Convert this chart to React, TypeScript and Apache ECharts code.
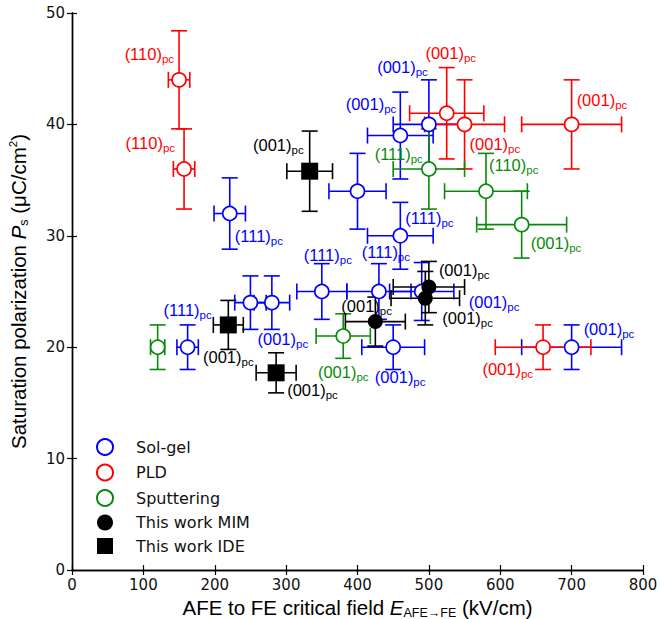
import React, { useEffect, useRef } from "react";
import * as echarts from "echarts";

// ---- Data (E in kV/cm, P in µC/cm²) ----
const solGelE = [162, 221, 250, 280, 350, 430, 490, 450, 400, 460, 460, 500, 700];
const solGelP = [20, 32, 24, 24, 25, 25, 25, 20, 34, 30, 39, 40, 20];
const solGelEerr = [15, 22, 22, 25, 35, 45, 45, 44, 40, 46, 46, 50, 70];
const solGelPerr = [2, 3.2, 2.4, 2.4, 2.5, 2.5, 2.6, 2, 3.4, 3, 3.9, 4, 2];
const solGelLabels = ["(111)", "(111)", "", "(001)", "(111)", "(111)", "(001)", "(001)", "", "(111)", "(001)", "(001)", "(001)"];

const pldE = [150, 157, 525, 550, 700, 660];
const pldP = [44, 36, 41, 40, 40, 20];
const pldEerr = [15, 15, 52, 56, 70, 67];
const pldPerr = [4.4, 3.6, 4.1, 4, 4, 2];
const pldLabels = ["(110)", "(110)", "(001)", "(001)", "(001)", "(001)"];

const sputE = [120, 380, 500, 580, 630];
const sputP = [20, 21, 36, 34, 31];
const sputEerr = [10, 38, 50, 58, 63];
const sputPerr = [2, 2, 3.6, 3.4, 3];
const sputLabels = ["", "(001)", "(111)", "(110)", "(001)"];

const mimE = [425, 500, 495];
const mimP = [22.3, 25.4, 24.4];
const mimEerr = [42, 50, 48];
const mimPerr = [2.2, 2.3, 2.4];
const mimLabels = ["(001)", "(001)", "(001)"];

const ideE = [219, 286, 333];
const ideP = [22, 17.7, 35.8];
const ideEerr = [21, 28, 32];
const idePerr = [2.2, 1.8, 3.6];
const ideLabels = ["(001)", "(001)", "(001)"];

const xTicks = [0, 100, 200, 300, 400, 500, 600, 700, 800];
const yTicks = [0, 10, 20, 30, 40, 50];

// label placement (pixel offsets from the marker, alignment)
type Place = [number, number, string];
const solGelPlace: Place[] = [
  [0, -37, "center"], [5, 22, "left"], [0, 0, "left"], [11, 36, "center"], [6, -37, "center"],
  [7, -40, "center"], [47, 10, "left"], [7, 30, "center"], [0, 0, "left"], [5, -18, "left"],
  [-4, -32, "right"], [-1, -57, "right"], [12, -18, "left"],
];
const pldPlace: Place[] = [
  [-5, -26, "right"], [-9, -26, "right"], [4, -60, "center"], [5, 20, "left"], [5, -24, "left"], [-10, 22, "right"],
];
const sputPlace: Place[] = [[0, 0, "left"], [0, 36, "center"], [-6, -15, "right"], [3, -26, "left"], [9, 18, "left"]];
const mimPlace: Place[] = [[-34, -16, "left"], [10, -17, "left"], [17, 20, "left"]];
const idePlace: Place[] = [[0, 32, "center"], [11, 17, "left"], [-6, -26, "right"]];

const BLUE = "#0000ff";
const RED = "#ff0000";
const GREEN = "#0a8a0a";
const BLACK = "#000000";

const LABEL_FONT = "Liberation Sans";
const TICK_FONT = "DejaVu Sans";

type Group = {
  name: string;
  E: number[];
  P: number[];
  Ee: number[];
  Pe: number[];
  labels: string[];
  place: Place[];
  color: string;
  symbol: string;
  size: number;
  filled: boolean;
};

const groups: Group[] = [
  { name: "Sol-gel", E: solGelE, P: solGelP, Ee: solGelEerr, Pe: solGelPerr, labels: solGelLabels, place: solGelPlace, color: BLUE, symbol: "circle", size: 14, filled: false },
  { name: "PLD", E: pldE, P: pldP, Ee: pldEerr, Pe: pldPerr, labels: pldLabels, place: pldPlace, color: RED, symbol: "circle", size: 14, filled: false },
  { name: "Sputtering", E: sputE, P: sputP, Ee: sputEerr, Pe: sputPerr, labels: sputLabels, place: sputPlace, color: GREEN, symbol: "circle", size: 14, filled: false },
  { name: "This work MIM", E: mimE, P: mimP, Ee: mimEerr, Pe: mimPerr, labels: mimLabels, place: mimPlace, color: BLACK, symbol: "circle", size: 15, filled: true },
  { name: "This work IDE", E: ideE, P: ideP, Ee: ideEerr, Pe: idePerr, labels: ideLabels, place: idePlace, color: BLACK, symbol: "rect", size: 17, filled: true },
];

function buildSeries() {
  const series: any[] = [];
  groups.forEach((g) => {
    const data = g.E.map((e, i) => [e, g.P[i], g.Ee[i], g.Pe[i]]);
    series.push({
      type: "custom",
      name: g.name + " error",
      silent: true,
      data,
      encode: { x: 0, y: 1 },
      renderItem: (params: any, api: any) => {
        const x = api.value(0);
        const y = api.value(1);
        const xe = api.value(2);
        const ye = api.value(3);
        const l = api.coord([x - xe, y]);
        const r = api.coord([x + xe, y]);
        const t = api.coord([x, y + ye]);
        const b = api.coord([x, y - ye]);
        const cap = 8;
        const st = { stroke: g.color, lineWidth: 1.6 };
        const ln = (x1: number, y1: number, x2: number, y2: number) => ({
          type: "line",
          shape: { x1, y1, x2, y2 },
          style: st,
        });
        return {
          type: "group",
          children: [
            ln(l[0], l[1], r[0], r[1]),
            ln(t[0], t[1], b[0], b[1]),
            ln(l[0], l[1] - cap, l[0], l[1] + cap),
            ln(r[0], r[1] - cap, r[0], r[1] + cap),
            ln(t[0] - cap, t[1], t[0] + cap, t[1]),
            ln(b[0] - cap, b[1], b[0] + cap, b[1]),
          ],
        };
      },
      z: 2,
    });
    series.push({
      type: "scatter",
      name: g.name,
      symbol: g.symbol,
      symbolSize: g.size,
      data: g.E.map((e, i) => [e, g.P[i]]),
      itemStyle: g.filled
        ? { color: g.color, borderColor: g.color, borderWidth: 0, opacity: 1 }
        : { color: "#ffffff", borderColor: g.color, borderWidth: 1.7, opacity: 1 },
      z: 3,
    });
  });
  groups.forEach((g) => {
    series.push({
      type: "custom",
      name: g.name + " labels",
      silent: true,
      data: g.E.map((e, i) => [e, g.P[i]]),
      encode: { x: 0, y: 1 },
      renderItem: (params: any, api: any) => {
        const i = params.dataIndex;
        const txt = g.labels[i];
        if (!txt) return { type: "group", children: [] };
        const p = api.coord([api.value(0), api.value(1)]);
        const pl = g.place[i];
        return {
          type: "text",
          x: p[0] + pl[0],
          y: p[1] + pl[1],
          style: {
            text: "{m|" + txt + "}{s|pc}",
            align: pl[2],
            verticalAlign: "middle",
            fill: g.color,
            rich: {
              m: { fontSize: 16.5, fontFamily: LABEL_FONT, fill: g.color, color: g.color },
              s: { fontSize: 11.5, fontFamily: LABEL_FONT, fill: g.color, color: g.color, padding: [10, 0, 0, 0] },
            },
          },
        };
      },
      z: 4,
    });
  });
  return series;
}

export default function App() {
  const ref = useRef<HTMLDivElement>(null);
  useEffect(() => {
    if (!ref.current) return;
    const chart = echarts.init(ref.current, undefined, { renderer: "svg" });
    const axisLine = { show: true, lineStyle: { color: "#000", width: 1.4 } };
    const option: any = {
      animation: false,
      backgroundColor: "#ffffff",
      grid: { left: 72, right: 17, top: 13, bottom: 49, containLabel: false, outerBoundsMode: "none" },
      legend: {
        orient: "vertical",
        left: 96,
        top: 438,
        padding: 0,
        itemWidth: 16,
        itemHeight: 16,
        itemGap: 7.5,
        data: groups.map((g) => g.name),
        formatter: "{a|{name}}",
        textStyle: {
          color: "#111",
          fontSize: 16,
          fontFamily: TICK_FONT,
          rich: { a: { fontSize: 16, fontFamily: TICK_FONT, color: "#111", padding: [0, 0, 0, 18] } },
        },
      },
      xAxis: [
        {
          type: "value",
          min: xTicks[0],
          max: xTicks[xTicks.length - 1],
          interval: xTicks[1] - xTicks[0],
          position: "bottom",
          axisLine,
          axisTick: { show: true, inside: true, length: 5, lineStyle: { color: "#000", width: 1.2 } },
          axisLabel: { color: "#111", fontSize: 15, fontFamily: TICK_FONT, margin: 7 },
          splitLine: { show: false },
          name: "{n|AFE to FE critical field }{i|E}{s|AFE→FE}{n| (kV/cm)}",
          nameLocation: "middle",
          nameGap: 22,
          nameTextStyle: {
            color: "#000",
            rich: {
              n: { fontSize: 20.5, fontFamily: LABEL_FONT, color: "#000" },
              i: { fontSize: 20.5, fontFamily: LABEL_FONT, fontStyle: "italic", color: "#000" },
              s: { fontSize: 12.5, fontFamily: LABEL_FONT, color: "#000", padding: [11, 0, 0, 0] },
            },
          },
        },
        {
          type: "value",
          min: xTicks[0],
          max: xTicks[xTicks.length - 1],
          interval: xTicks[1] - xTicks[0],
          position: "top",
          axisLine,
          axisTick: { show: true, inside: true, length: 5, lineStyle: { color: "#000", width: 1.2 } },
          axisLabel: { show: false },
          splitLine: { show: false },
        },
      ],
      yAxis: [
        {
          type: "value",
          min: yTicks[0],
          max: yTicks[yTicks.length - 1],
          interval: yTicks[1] - yTicks[0],
          position: "left",
          axisLine,
          axisTick: { show: true, inside: true, length: 5, lineStyle: { color: "#000", width: 1.2 } },
          axisLabel: { color: "#111", fontSize: 15, fontFamily: TICK_FONT, margin: 7 },
          splitLine: { show: false },
          name: "{n|Saturation polarization }{i|P}{s|s}{n| (μC/cm}{u|2}{n|)}",
          nameLocation: "middle",
          nameGap: 42,
          nameTextStyle: {
            color: "#000",
            rich: {
              n: { fontSize: 20.5, fontFamily: LABEL_FONT, color: "#000" },
              i: { fontSize: 20.5, fontFamily: LABEL_FONT, fontStyle: "italic", color: "#000" },
              s: { fontSize: 12.5, fontFamily: LABEL_FONT, color: "#000", padding: [11, 0, 0, 0] },
              u: { fontSize: 11.5, fontFamily: LABEL_FONT, color: "#000", padding: [0, 0, 10, 0] },
            },
          },
        },
        {
          type: "value",
          min: yTicks[0],
          max: yTicks[yTicks.length - 1],
          interval: yTicks[1] - yTicks[0],
          position: "right",
          axisLine,
          axisTick: { show: true, inside: true, length: 5, lineStyle: { color: "#000", width: 1.2 } },
          axisLabel: { show: false },
          splitLine: { show: false },
        },
      ],
      series: buildSeries(),
    };
    chart.setOption(option);
    return () => chart.dispose();
  }, []);
  return (
    <div
      ref={ref}
      style={{ position: "absolute", left: 0, top: 0, width: 660, height: 619, background: "#fff" }}
    />
  );
}
